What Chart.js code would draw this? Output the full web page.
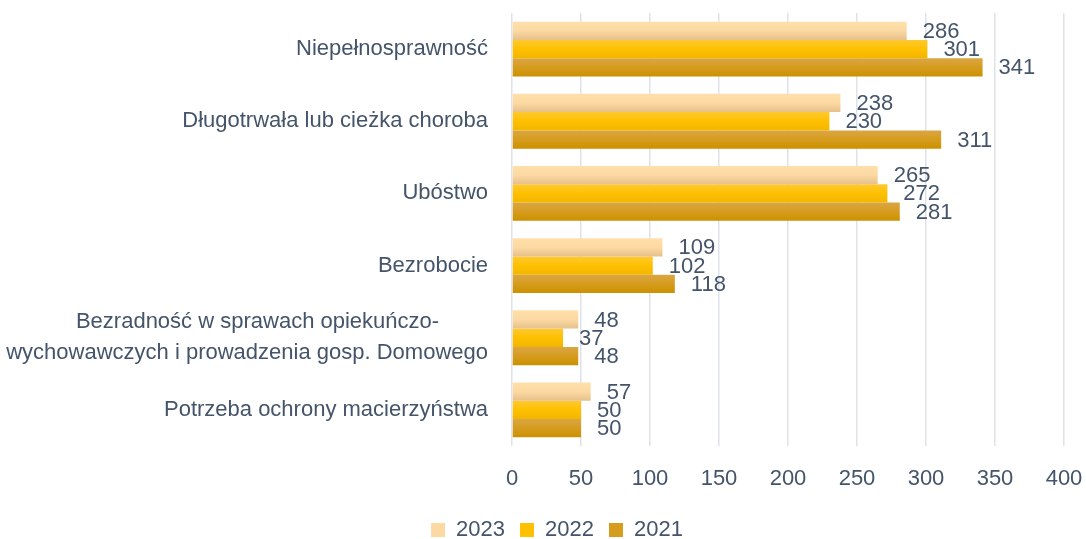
<!DOCTYPE html>
<html>
<head>
<meta charset="utf-8">
<script src="https://cdn.jsdelivr.net/npm/chart.js@4/dist/chart.umd.min.js"></script>
<style>
  html, body { margin: 0; padding: 0; background: #fff; }
  #wrap { width: 1086px; height: 539px; }
</style>
</head>
<body>
<div id="wrap"><canvas id="chart"></canvas></div>
<script>
const categories = [
  'Niepełnosprawność',
  'Długotrwała lub cieżka choroba',
  'Ubóstwo',
  'Bezrobocie',
  ['Bezradność w sprawach opiekuńczo-\u00a0\u00a0\u00a0\u00a0\u00a0\u00a0\u00a0\u00a0', 'wychowawczych i prowadzenia gosp. Domowego'],
  'Potrzeba ochrony macierzyństwa'
];
const values2023 = [286, 238, 265, 109, 48, 57];
const values2022 = [301, 230, 272, 102, 37, 50];
const values2021 = [341, 311, 281, 118, 48, 50];
const xTicks = [0, 50, 100, 150, 200, 250, 300, 350, 400];

const textColor = '#44546A';
const family = '"Liberation Sans", Arial, sans-serif';
const font = { family: family, size: 22 };
const catPct = 0.76;

// gradient stops per series (top -> bottom)
const stops = {
  0: [[0, '#FFDFAA'], [0.5, '#FCD9A2'], [1, '#E6C08C']],
  1: [[0, '#FFC930'], [0.5, '#FFC000'], [1, '#F2B600']],
  2: [[0, '#DAA644'], [0.5, '#D69C1E'], [1, '#CB9100']]
};

function barFill(ctx) {
  const chart = ctx.chart;
  const y = chart.scales.y;
  const ds = ctx.datasetIndex;
  const solid = stops[ds][1][1];
  if (!y || ctx.type !== 'data' || y.height === undefined) return solid;
  const catH = y.height / categories.length;
  const barH = catH * catPct / 3;
  const top = y.getPixelForValue(ctx.dataIndex) - catH * catPct / 2 + ds * barH;
  const g = chart.ctx.createLinearGradient(0, top, 0, top + barH);
  stops[ds].forEach(s => g.addColorStop(s[0], s[1]));
  return g;
}

const valueLabels = {
  id: 'valueLabels',
  afterDatasetsDraw(chart) {
    const ctx = chart.ctx;
    ctx.save();
    ctx.font = font.size + 'px ' + family;
    ctx.fillStyle = textColor;
    ctx.textAlign = 'left';
    ctx.textBaseline = 'middle';
    chart.data.datasets.forEach((d, i) => {
      chart.getDatasetMeta(i).data.forEach((el, j) => {
        ctx.fillText(d.data[j], el.x + 16, el.y + 1);
      });
    });
    ctx.restore();
  }
};

// legend in the original sits a bit right of the canvas centre
const legendShift = {
  id: 'legendShift',
  afterLayout(chart) {
    chart.legend.left += 25;
    chart.legend.right += 25;
  }
};

new Chart(document.getElementById('chart'), {
  type: 'bar',
  data: {
    labels: categories,
    datasets: [
      { label: '2023', data: values2023, backgroundColor: barFill },
      { label: '2022', data: values2022, backgroundColor: barFill },
      { label: '2021', data: values2021, backgroundColor: barFill }
    ]
  },
  options: {
    indexAxis: 'y',
    responsive: true,
    maintainAspectRatio: false,
    animation: false,
    categoryPercentage: catPct,
    barPercentage: 1,
    layout: { padding: { top: 13, right: 22, left: 0, bottom: -12 } },
    scales: {
      x: {
        min: 0,
        max: 400,
        afterBuildTicks(scale) { scale.ticks = xTicks.map(v => ({ value: v })); },
        grid: { color: '#DEE2E9', lineWidth: 1.5, drawTicks: false },
        border: { display: false },
        ticks: { color: textColor, font: font, padding: 20 },
        afterFit(scale) {
          scale.height = 58;
          scale.paddingLeft = 0;
          scale.paddingRight = 0;
        }
      },
      y: {
        grid: { display: false },
        border: { display: false },
        ticks: { color: textColor, font: { family: family, size: 22, lineHeight: 1.4 }, padding: 16, autoSkip: false },
        afterFit(scale) {
          scale.width = 512;
          scale.paddingTop = 0;
          scale.paddingBottom = 0;
        }
      }
    },
    plugins: {
      legend: {
        position: 'bottom',
        labels: {
          color: textColor,
          font: font,
          boxWidth: 14,
          boxHeight: 14,
          padding: 15,
          generateLabels(chart) {
            return chart.data.datasets.map((d, i) => ({
              text: d.label,
              fillStyle: stops[i][1][1],
              strokeStyle: stops[i][1][1],
              lineWidth: 0,
              fontColor: textColor,
              datasetIndex: i
            }));
          }
        }
      },
      tooltip: { enabled: false }
    }
  },
  plugins: [valueLabels, legendShift]
});
</script>
</body>
</html>
